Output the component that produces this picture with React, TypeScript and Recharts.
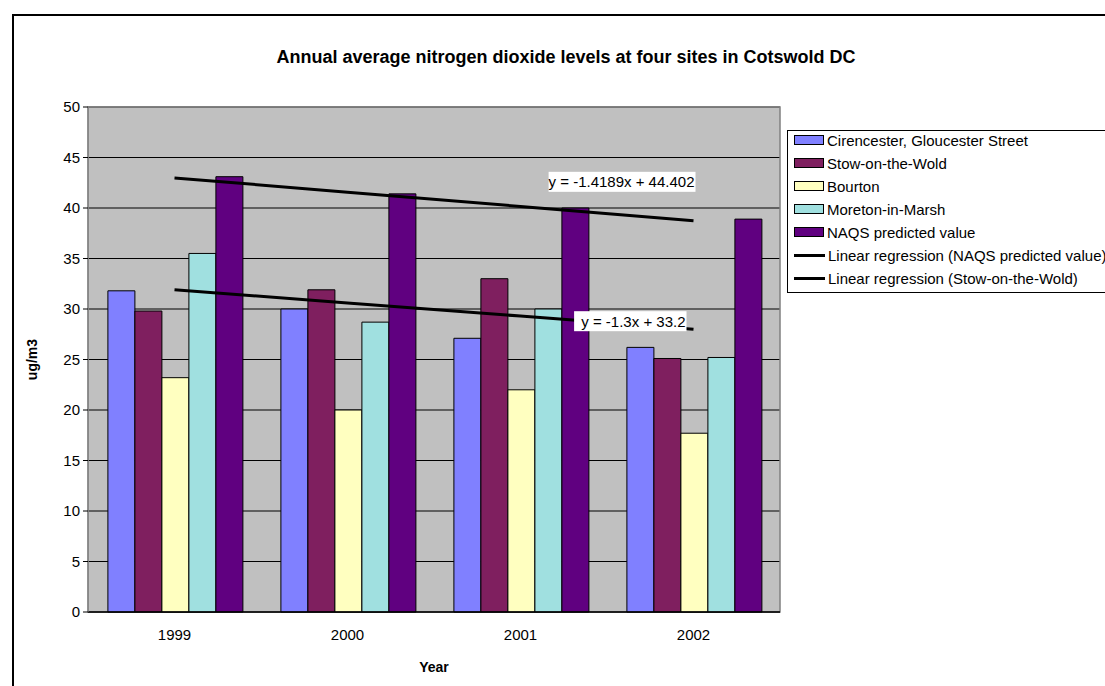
import * as React from "react";
import {
  Bar,
  CartesianGrid,
  ComposedChart,
  Label,
  LabelList,
  Line,
  ReferenceArea,
  XAxis,
  YAxis,
} from "recharts";

const years = ["1999", "2000", "2001", "2002"];
const cirencester = [31.8, 30.0, 27.1, 26.2];
const stow = [29.8, 31.9, 33.0, 25.1];
const bourton = [23.2, 20.0, 22.0, 17.7];
const moreton = [35.5, 28.7, 30.0, 25.2];
const naqs = [43.1, 41.4, 40.0, 38.9];
// trendline values
const naqsTrend = [42.98, 41.57, 40.15, 38.73];
const stowTrend = [31.9, 30.6, 29.3, 28.0];
const yTicks = [0, 5, 10, 15, 20, 25, 30, 35, 40, 45, 50];
const edgeTicks = [0, 1, 2, 3, 4];

const FONT = "'Liberation Sans', Arial, sans-serif";

const barSeries = [
  { key: "cirencester", name: "Cirencester, Gloucester Street", color: "#8080FF" },
  { key: "stow", name: "Stow-on-the-Wold", color: "#7F1F5F" },
  { key: "bourton", name: "Bourton", color: "#FFFFC0" },
  { key: "moreton", name: "Moreton-in-Marsh", color: "#A0E0E0" },
  { key: "naqs", name: "NAQS predicted value", color: "#600080" },
];
const lineSeries = [
  { key: "naqsTrend", name: "Linear regression (NAQS predicted value)", eq: "y = -1.4189x + 44.402", dx: 1, dy: -39 },
  { key: "stowTrend", name: "Linear regression (Stow-on-the-Wold)", eq: "y = -1.3x + 33.2", dx: -8, dy: -8 },
];

const data = years.map((year, i) => ({
  year,
  cirencester: cirencester[i],
  stow: stow[i],
  bourton: bourton[i],
  moreton: moreton[i],
  naqs: naqs[i],
  naqsTrend: naqsTrend[i],
  stowTrend: stowTrend[i],
}));

function eqLabel(text: string, dx: number, dy: number) {
  return (props: any) => {
    if (props.index !== years.length - 1) return null;
    const w = text.length * 6.9;
    const x = props.x + dx;
    const y = props.y + dy;
    return (
      <g>
        <rect x={x - w - 1} y={y - 10} width={w + 2} height={20} fill="#fff" />
        <text
          x={x}
          y={y}
          textAnchor="end"
          dominantBaseline="central"
          fontFamily={FONT}
          fontSize={15}
          fill="#000"
        >
          {text}
        </text>
      </g>
    );
  };
}

export default function App() {
  return (
    <div
      style={{
        position: "absolute",
        left: 0,
        top: 0,
        width: 1105,
        height: 686,
        overflow: "hidden",
        background: "#fff",
        fontFamily: FONT,
      }}
    >
      <div
        style={{
          position: "absolute",
          left: 12,
          top: 14,
          width: 1200,
          height: 800,
          border: "2px solid #000",
        }}
      />
      <div
        style={{
          position: "absolute",
          left: 88,
          width: 956,
          top: 47,
          textAlign: "center",
          fontSize: 18,
          fontWeight: "bold",
          color: "#000",
        }}
      >
        Annual average nitrogen dioxide levels at four sites in Cotswold DC
      </div>
      <div style={{ position: "absolute", left: 0, top: 0 }}>
        <ComposedChart
          width={1105}
          height={686}
          data={data}
          margin={{ top: 107, right: 325, bottom: 14, left: 13 }}
          barCategoryGap="11.5%"
          barGap={0}
        >
          <CartesianGrid
            vertical={false}
            stroke="#000"
            fill="#C0C0C0"
            fillOpacity={1}
          />
          <XAxis
            xAxisId="edges"
            type="number"
            domain={[0, 4]}
            ticks={edgeTicks}
            height={0}
            axisLine={false}
            tickLine={{ stroke: "#000" }}
            tickSize={5}
            tick={() => <g />}
          />
          <XAxis
            dataKey="year"
            height={60}
            axisLine={{ stroke: "#000", strokeWidth: 1.5 }}
            tickLine={false}
            tickSize={5}
            tickMargin={12}
            tick={{ fill: "#000", fontSize: 15, fontFamily: FONT }}
          >
            <Label
              value="Year"
              position="insideBottom"
              offset={0}
              style={{ fontWeight: "bold", fontSize: 14, fontFamily: FONT, fill: "#000" }}
            />
          </XAxis>
          <YAxis
            width={75}
            domain={[0, 50]}
            ticks={yTicks}
            interval={0}
            axisLine={{ stroke: "#808080" }}
            tickLine={{ stroke: "#000" }}
            tickSize={5}
            tickMargin={3}
            tick={{ fill: "#000", fontSize: 15, fontFamily: FONT }}
          >
            <Label
              value="ug/m3"
              angle={-90}
              position="insideLeft"
              offset={19}
              style={{ textAnchor: "middle", fontWeight: "bold", fontSize: 14, fontFamily: FONT, fill: "#000" }}
            />
          </YAxis>
          <ReferenceArea y1={0} y2={50} fill="none" stroke="#808080" strokeWidth={1.5} ifOverflow="visible" />
          {barSeries.map((s) => (
            <Bar
              key={s.key}
              dataKey={s.key}
              name={s.name}
              fill={s.color}
              stroke="#000"
              strokeWidth={1}
              isAnimationActive={false}
            />
          ))}
          {lineSeries.map((s) => (
            <Line
              key={s.key}
              dataKey={s.key}
              name={s.name}
              stroke="#000"
              strokeWidth={3}
              dot={false}
              activeDot={false}
              isAnimationActive={false}
            >
              <LabelList dataKey={s.key} content={eqLabel(s.eq, s.dx, s.dy)} />
            </Line>
          ))}
        </ComposedChart>
      </div>
      <div
        style={{
          position: "absolute",
          left: 787,
          top: 130,
          width: 340,
          height: 161,
          border: "1px solid #000",
          background: "#fff",
          fontSize: 15,
          color: "#000",
        }}
      >
        {barSeries.map((s, i) => (
          <div key={s.key} style={{ position: "absolute", left: 6, top: i * 23, height: 18, display: "flex", alignItems: "center", whiteSpace: "nowrap" }}>
            <div style={{ width: 28, height: 8, background: s.color, border: "1px solid #000", marginRight: 3 }} />
            <span>{s.name}</span>
          </div>
        ))}
        {lineSeries.map((s, i) => (
          <div key={s.key} style={{ position: "absolute", left: 6, top: (i + barSeries.length) * 23, height: 18, display: "flex", alignItems: "center", whiteSpace: "nowrap" }}>
            <div style={{ width: 31, height: 3, background: "#000", marginRight: 3 }} />
            <span>{s.name}</span>
          </div>
        ))}
      </div>
    </div>
  );
}
